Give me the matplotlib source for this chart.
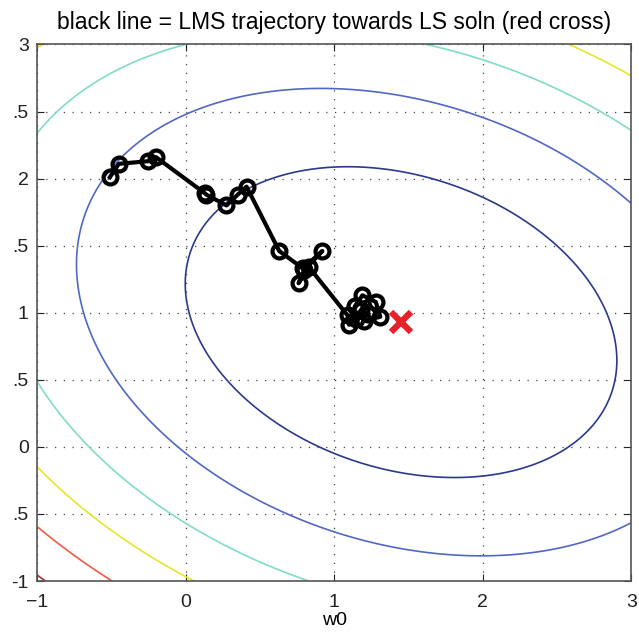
import numpy as np
import matplotlib
matplotlib.use('Agg')
import matplotlib.pyplot as plt

plt.rcParams['font.family'] = ['Liberation Sans', 'DejaVu Sans']

# LS solution (red cross) and quadratic error surface around it
w_ls = [1.45, 0.93]
R = [[0.636, 0.197],
     [0.197, 1.0]]
levels = [1.26, 2.85, 4.44, 6.02, 7.61, 9.19]
level_colors = ['#2a3a8c', '#5068c4', '#80dcc8', '#e6e628', '#f05a48', '#a03038']

# LMS trajectory (w0, w1)
traj_w0 = [-0.51, -0.45, -0.25, -0.20, 0.13, 0.14, 0.275, 0.35, 0.41,
           0.63, 0.79, 0.92, 0.80, 0.76, 0.83,
           1.09, 1.10, 1.14, 1.19, 1.28, 1.31, 1.20, 1.18, 1.23, 1.15]
traj_w1 = [2.01, 2.11, 2.13, 2.16, 1.89, 1.88, 1.80, 1.88, 1.94,
           1.46, 1.33, 1.46, 1.32, 1.22, 1.34,
           0.98, 0.91, 1.05, 1.13, 1.08, 0.97, 0.94, 1.02, 0.99, 0.95]

xticks = [-1, 0, 1, 2, 3]
xticklabels = ['\u22121', '0', '1', '2', '3']
yticks = [3, 2.5, 2, 1.5, 1, 0.5, 0, -0.5, -1]
yticklabels = ['3', '.5', '2', '.5', '1', '.5', '0', '.5', '-1']

g0, g1 = np.meshgrid(np.linspace(-1, 3, 400), np.linspace(-1, 3, 400))
d0 = g0 - w_ls[0]
d1 = g1 - w_ls[1]
J = R[0][0] * d0**2 + 2 * R[0][1] * d0 * d1 + R[1][1] * d1**2

fig = plt.figure(figsize=(6.39, 6.35), dpi=100)
ax = fig.add_axes([0.058, 0.085, 0.93, 0.845])

ax.contour(g0, g1, J, levels=levels, colors=level_colors, linewidths=1.2)
ax.plot(traj_w0, traj_w1, 'k-', linewidth=3, zorder=5)
ax.plot(traj_w0, traj_w1, 'o', markerfacecolor='none', markeredgecolor='k',
        markersize=10, markeredgewidth=3, zorder=6)
ax.plot(w_ls[0], w_ls[1], 'x', color='#e8202a', markersize=15,
        markeredgewidth=4.5, zorder=7)

ax.set_xlim(-1, 3)
ax.set_ylim(-1, 3)
ax.set_xticks(xticks)
ax.set_xticklabels(xticklabels)
ax.set_yticks(yticks)
ax.set_yticklabels(yticklabels)
ax.tick_params(direction='in', labelsize=14, length=5, width=0.8, colors='#222222',
               top=True, right=True)
ax.tick_params(axis='x', pad=9)
ax.tick_params(axis='y', pad=6)
ax.grid(True, color='#444444', linestyle=(0, (1, 6)), linewidth=0.9)
for s in ax.spines.values():
    s.set_color('#555555')
    s.set_linewidth(1.2)

ax.set_title('black line = LMS trajectory towards LS soln (red cross)', fontsize=16.5, pad=11)
ax.set_xlabel('w0', fontsize=14, labelpad=1)

fig.savefig('out.png', dpi=100)
